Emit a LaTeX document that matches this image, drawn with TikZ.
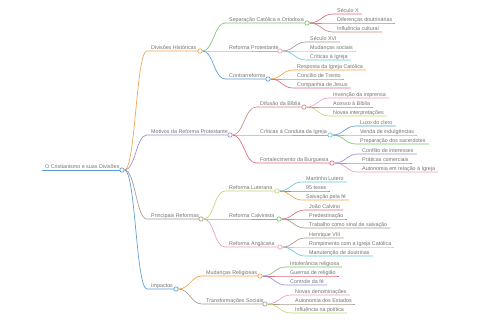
\documentclass[tikz,border=0pt]{standalone}
\usepackage{fontspec}
\setmainfont{Liberation Sans}
\definecolor{cOrange}{HTML}{F6A04D}
\definecolor{cPurple}{HTML}{9A8FD3}
\definecolor{cGray}{HTML}{A89A8E}
\definecolor{cBlue}{HTML}{5B9BD5}
\definecolor{cGreen}{HTML}{78C66E}
\definecolor{cPink}{HTML}{EE9AC8}
\definecolor{cRed}{HTML}{E0677A}
\definecolor{cCyan}{HTML}{65C8DE}
\definecolor{cYG}{HTML}{C5D96A}
\definecolor{cYellow}{HTML}{E5D55A}
\definecolor{cBrown}{HTML}{C98B7F}
\definecolor{cText}{HTML}{737373}
\tikzset{
  lbl/.style={font=\fontsize{5.35}{6}\selectfont, text=cText, inner sep=0pt},
  dot/.style={circle, draw=#1, fill=white, inner sep=0pt, minimum size=4.4pt, line width=0.65pt},
  edge/.style={draw=#1, line width=0.65pt},
}
% #1 name, #2 parent, #3 colour, #4 x start, #5 y, #6 circle x, #7 text
\newcommand{\mmnode}[7]{%
  \coordinate (#1s) at (#4,#5);
  \coordinate (#1c) at (#6,#5);
  \node[lbl, anchor=base west] (#1t) at (#4+4,#5-1.8) {#7};
  \draw[edge=#3] (#2.east) .. controls +(11,0) and +(-11,0) .. (#1s) -- (#1c);
  \node[dot=#3] (#1) at (#1c) {};
}
% #1 name, #2 parent, #3 colour, #4 x start, #5 y, #6 text
\newcommand{\mmleaf}[6]{%
  \coordinate (#1s) at (#4,#5);
  \node[lbl, anchor=base west] (#1) at (#4+4,#5-1.8) {#6};
  \draw[edge=#3] (#2.east) .. controls +(11,0) and +(-11,0) .. (#1s) -- (#1s -| #1.east) -- ++(3,0);
}
\begin{document}
\begin{tikzpicture}[x=1pt,y=-1pt]
\useasboundingbox[fill=white] (0,0) rectangle (480,320);
% root
\coordinate (roots) at (42,170);
\coordinate (rootc) at (122,170);
\node[lbl, anchor=base west] (roott) at (45,168.2) {O Cristianismo e suas Divisões};
\draw[cBlue, line width=0.9pt] (roots) -- (rootc);
\node[dot=cBlue] (root) at (rootc) {};
% level 1
\mmnode{a}{root}{cOrange}{147}{51}{200}{Divisões Históricas}
\mmnode{b}{root}{cPurple}{147}{135}{230}{Motivos da Reforma Protestante}
\mmnode{c}{root}{cGray}{147}{219}{201}{Principais Reformas}
\mmnode{d}{root}{cBlue}{147}{289}{176}{Impactos}
% Divisoes
\mmnode{aa}{a}{cGreen}{225}{23}{307}{Separação Católica e Ortodoxa}
\mmnode{ab}{a}{cPink}{225}{51}{280}{Reforma Protestante}
\mmnode{ac}{a}{cBlue}{225}{79}{268}{Contrarreforma}
\mmleaf{aa1}{aa}{cRed}{333}{14}{Século X}
\mmleaf{aa2}{aa}{cPurple}{333}{23}{Diferenças doutrinárias}
\mmleaf{aa3}{aa}{cBrown}{333}{32}{Influência cultural}
\mmleaf{ab1}{ab}{cGray}{306}{42}{Século XVI}
\mmleaf{ab2}{ab}{cYellow}{306}{51}{Mudanças sociais}
\mmleaf{ab3}{ab}{cCyan}{306}{60}{Críticas à Igreja}
\mmleaf{ac1}{ac}{cOrange}{293}{70}{Resposta da Igreja Católica}
\mmleaf{ac2}{ac}{cGreen}{293}{79}{Concílio de Trento}
\mmleaf{ac3}{ac}{cRed}{293}{88}{Companhia de Jesus}
% Motivos
\mmnode{ba}{b}{cBrown}{256}{107}{304}{Difusão da Bíblia}
\mmnode{bb}{b}{cCyan}{256}{135}{330}{Críticas à Conduta da Igreja}
\mmnode{bc}{b}{cRed}{256}{163}{332}{Fortalecimento da Burguesia}
\mmleaf{ba1}{ba}{cPink}{329}{98}{Invenção da imprensa}
\mmleaf{ba2}{ba}{cPurple}{329}{107}{Acesso à Bíblia}
\mmleaf{ba3}{ba}{cYG}{329}{116}{Novas interpretações}
\mmleaf{bb1}{bb}{cBlue}{356}{126}{Luxo do clero}
\mmleaf{bb2}{bb}{cOrange}{356}{135}{Venda de indulgências}
\mmleaf{bb3}{bb}{cGreen}{356}{144}{Preparação dos sacerdotes}
\mmleaf{bc1}{bc}{cPurple}{358}{154}{Conflito de interesses}
\mmleaf{bc2}{bc}{cGray}{358}{163}{Práticas comerciais}
\mmleaf{bc3}{bc}{cPink}{358}{172}{Autonomia em relação à Igreja}
% Principais Reformas
\mmnode{ca}{c}{cYG}{225}{191}{277}{Reforma Luterana}
\mmnode{cb}{c}{cGreen}{225}{219}{279}{Reforma Calvinista}
\mmnode{cc}{c}{cPink}{225}{247}{280}{Reforma Anglicana}
\mmleaf{ca1}{ca}{cCyan}{302}{182}{Martinho Lutero}
\mmleaf{ca2}{ca}{cBlue}{302}{191}{95 teses}
\mmleaf{ca3}{ca}{cOrange}{302}{200}{Salvação pela fé}
\mmleaf{cb1}{cb}{cRed}{305}{210}{João Calvino}
\mmleaf{cb2}{cb}{cPurple}{305}{219}{Predestinação}
\mmleaf{cb3}{cb}{cGray}{305}{228}{Trabalho como sinal de salvação}
\mmleaf{cc1}{cc}{cGray}{305}{238}{Henrique VIII}
\mmleaf{cc2}{cc}{cYellow}{305}{247}{Rompimento com a Igreja Católica}
\mmleaf{cc3}{cc}{cCyan}{305}{256}{Manutenção de doutrinas}
% Impactos
\mmnode{da}{d}{cOrange}{202}{276}{260}{Mudanças Religiosas}
\mmnode{db}{d}{cGray}{202}{304}{265}{Transformações Sociais}
\mmleaf{da1}{da}{cGreen}{286}{267}{Intolerância religiosa}
\mmleaf{da2}{da}{cRed}{286}{276}{Guerras de religião}
\mmleaf{da3}{da}{cPurple}{286}{285}{Controle da fé}
\mmleaf{db1}{db}{cPink}{291}{295}{Novas denominações}
\mmleaf{db2}{db}{cGray}{291}{304}{Autonomia dos Estados}
\mmleaf{db3}{db}{cYG}{291}{313}{Influência na política}
\end{tikzpicture}
\end{document}
